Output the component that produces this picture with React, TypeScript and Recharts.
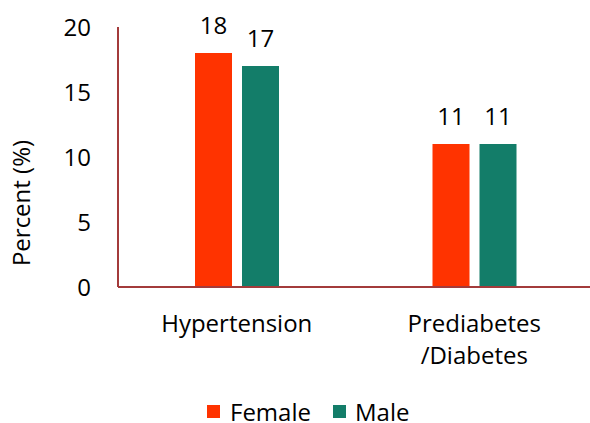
import { BarChart, Bar, XAxis, YAxis, Legend, LabelList, Label } from 'recharts';

const categories = ['Hypertension', 'Prediabetes\n/Diabetes'];
const female = [18, 11];
const male = [17, 11];
const yTicks = [0, 5, 10, 15, 20];

const data = categories.map((name, i) => ({
    name,
    Female: female[i],
    Male: male[i],
}));

const FONT = '"Open Sans", sans-serif';
const AXIS = '#A33B3B';
const COLORS = { Female: '#FF3300', Male: '#137D69' };

const XTick = (props: any) => {
    const { x, y, payload } = props;
    const lines = String(payload.value).split('\n');
    return (
        <text x={x} y={y} textAnchor="middle" fontFamily={FONT} fontSize={24} fill="#000">
            {lines.map((l, i) => (
                <tspan key={i} x={x} dy={i === 0 ? 45 : 32}>{l}</tspan>
            ))}
        </text>
    );
};

const YLabel = () => (
    <text
        x={0}
        y={0}
        transform="translate(30, 203) rotate(-90)"
        textAnchor="middle"
        fontFamily={FONT}
        fontSize={24}
        fill="#000"
    >
        Percent (%)
    </text>
);

const LegendBox = () => (
    <div style={{ display: 'flex', alignItems: 'center', fontFamily: FONT, fontSize: 24, color: '#000', whiteSpace: 'nowrap' }}>
        <span style={{ width: 13, height: 13, background: COLORS.Female, display: 'inline-block', marginRight: 10 }} />
        <span style={{ marginRight: 22 }}>Female</span>
        <span style={{ width: 13, height: 13, background: COLORS.Male, display: 'inline-block', marginRight: 9 }} />
        <span>Male</span>
    </div>
);

export default function App() {
    return (
        <div style={{ position: 'absolute', left: 0, top: 0, width: 590, height: 423, overflow: 'hidden', background: '#fff' }}>
            <BarChart
                width={600}
                height={423}
                data={data}
                margin={{ top: 27, right: 7, bottom: 0, left: 0 }}
                barSize={37}
                barGap={10}
            >
                <XAxis
                    dataKey="name"
                    height={136}
                    axisLine={{ stroke: AXIS, strokeWidth: 2 }}
                    tickLine={false}
                    tickSize={0}
                    tickMargin={0}
                    tick={<XTick />}
                    interval={0}
                />
                <YAxis
                    width={118}
                    domain={[0, 20]}
                    ticks={yTicks}
                    axisLine={{ stroke: AXIS, strokeWidth: 2 }}
                    tickLine={false}
                    tickSize={0}
                    tickMargin={27}
                    tick={{ fill: '#000', fontSize: 24, fontFamily: FONT }}
                >
                    <Label content={<YLabel />} />
                </YAxis>
                <Legend
                    layout="horizontal"
                    verticalAlign="middle"
                    align="center"
                    content={<LegendBox />}
                    wrapperStyle={{ left: 207, top: 395, width: 'auto', height: 'auto' }}
                />
                <Bar dataKey="Female" fill={COLORS.Female} isAnimationActive={false}>
                    <LabelList dataKey="Female" position="top" offset={19} fill="#000" fontSize={24} fontFamily={FONT} />
                </Bar>
                <Bar dataKey="Male" fill={COLORS.Male} isAnimationActive={false}>
                    <LabelList dataKey="Male" position="top" offset={19} fill="#000" fontSize={24} fontFamily={FONT} />
                </Bar>
            </BarChart>
        </div>
    );
}
